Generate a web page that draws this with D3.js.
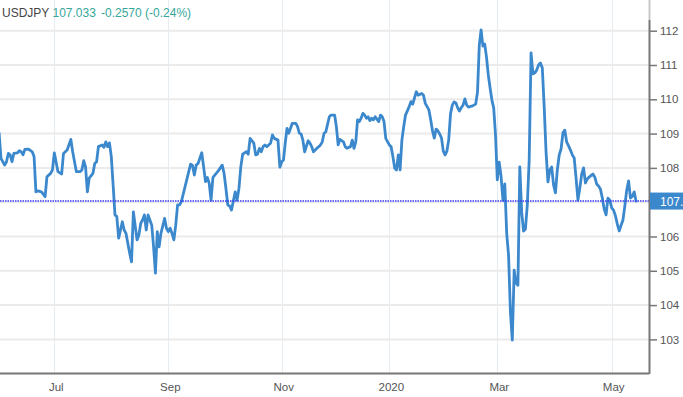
<!DOCTYPE html>
<html><head><meta charset="utf-8">
<script src="https://cdn.jsdelivr.net/npm/d3@7"></script>
<style>html,body{margin:0;padding:0;background:#fff;overflow:hidden}svg{display:block;font-family:"Liberation Sans",Arial,sans-serif}</style>
</head><body><svg id="c" width="683" height="397"></svg>
<script>
const symbol = "USDJPY";
const lastPrice = 107.033;
const lastText = "107.033";
const changeText = "-0.2570 (-0.24%)";

const dates = [
"2019-06-01","2019-06-02","2019-06-04","2019-06-05","2019-06-06","2019-06-07","2019-06-08","2019-06-09","2019-06-11","2019-06-12","2019-06-13","2019-06-14","2019-06-15","2019-06-17","2019-06-19","2019-06-20","2019-06-21","2019-06-22","2019-06-24","2019-06-26","2019-06-27","2019-06-29","2019-06-30",
"2019-07-01","2019-07-03","2019-07-05","2019-07-06","2019-07-08","2019-07-10","2019-07-11","2019-07-13","2019-07-15","2019-07-16","2019-07-17","2019-07-18","2019-07-19","2019-07-20","2019-07-22","2019-07-23","2019-07-24","2019-07-25","2019-07-27","2019-07-28","2019-07-29","2019-07-30","2019-07-31",
"2019-08-01","2019-08-02","2019-08-03","2019-08-04","2019-08-05","2019-08-07","2019-08-08","2019-08-09","2019-08-11","2019-08-12","2019-08-13","2019-08-15","2019-08-16","2019-08-17","2019-08-18","2019-08-19","2019-08-20","2019-08-21","2019-08-23","2019-08-24","2019-08-25","2019-08-26","2019-08-27","2019-08-28","2019-08-30","2019-08-31",
"2019-09-01","2019-09-02","2019-09-03","2019-09-04","2019-09-05","2019-09-06","2019-09-07","2019-09-08","2019-09-10","2019-09-12","2019-09-13","2019-09-14","2019-09-15","2019-09-16","2019-09-17","2019-09-19","2019-09-20","2019-09-21","2019-09-22","2019-09-23","2019-09-24","2019-09-25","2019-09-26","2019-09-28","2019-09-30",
"2019-10-01","2019-10-02","2019-10-03","2019-10-04","2019-10-05","2019-10-07","2019-10-08","2019-10-09","2019-10-10","2019-10-11","2019-10-13","2019-10-14","2019-10-15","2019-10-17","2019-10-18","2019-10-19","2019-10-20","2019-10-21","2019-10-22","2019-10-23","2019-10-24","2019-10-25","2019-10-26","2019-10-27","2019-10-28","2019-10-30","2019-10-31",
"2019-11-01","2019-11-02","2019-11-03","2019-11-04","2019-11-05","2019-11-07","2019-11-09","2019-11-10","2019-11-11","2019-11-12","2019-11-13","2019-11-14","2019-11-16","2019-11-17","2019-11-18","2019-11-19","2019-11-21","2019-11-23","2019-11-24","2019-11-25","2019-11-26","2019-11-28","2019-11-29",
"2019-12-01","2019-12-02","2019-12-03","2019-12-04","2019-12-06","2019-12-07","2019-12-08","2019-12-10","2019-12-11","2019-12-12","2019-12-13","2019-12-14","2019-12-15","2019-12-16","2019-12-17","2019-12-18","2019-12-19","2019-12-20","2019-12-21","2019-12-22","2019-12-23","2019-12-24","2019-12-26","2019-12-27","2019-12-28","2019-12-29","2019-12-30",
"2020-01-01","2020-01-02","2020-01-03","2020-01-04","2020-01-05","2020-01-06","2020-01-07","2020-01-08","2020-01-09","2020-01-10","2020-01-12","2020-01-13","2020-01-14","2020-01-16","2020-01-17","2020-01-19","2020-01-20","2020-01-21","2020-01-23","2020-01-24","2020-01-25","2020-01-26","2020-01-27","2020-01-28","2020-01-29","2020-01-30","2020-01-31",
"2020-02-01","2020-02-02","2020-02-03","2020-02-04","2020-02-05","2020-02-06","2020-02-07","2020-02-08","2020-02-09","2020-02-10","2020-02-11","2020-02-12","2020-02-13","2020-02-14","2020-02-15","2020-02-16","2020-02-17","2020-02-18","2020-02-19","2020-02-20","2020-02-21","2020-02-22","2020-02-23","2020-02-24","2020-02-25","2020-02-26","2020-02-27","2020-02-28","2020-02-29",
"2020-03-01","2020-03-02","2020-03-03","2020-03-04","2020-03-05","2020-03-06","2020-03-07","2020-03-08","2020-03-09","2020-03-10","2020-03-11","2020-03-12","2020-03-13","2020-03-14","2020-03-15","2020-03-16","2020-03-17","2020-03-18","2020-03-19","2020-03-20","2020-03-21","2020-03-22","2020-03-23","2020-03-24","2020-03-25","2020-03-26","2020-03-27","2020-03-28","2020-03-29","2020-03-30","2020-03-31",
"2020-04-01","2020-04-02","2020-04-03","2020-04-04","2020-04-05","2020-04-06","2020-04-07","2020-04-08","2020-04-09","2020-04-10","2020-04-11","2020-04-12","2020-04-13","2020-04-14","2020-04-15","2020-04-16","2020-04-17","2020-04-18","2020-04-19","2020-04-20","2020-04-21","2020-04-22","2020-04-23","2020-04-24","2020-04-25","2020-04-26","2020-04-27","2020-04-28","2020-04-29","2020-04-30",
"2020-05-01","2020-05-02","2020-05-03","2020-05-04","2020-05-05","2020-05-06","2020-05-07","2020-05-08","2020-05-09","2020-05-10","2020-05-11","2020-05-12","2020-05-13","2020-05-14"
];
const values = [
109.01,108.28,108.08,108.18,108.42,108.38,108.18,108.42,108.44,108.50,108.47,108.38,108.54,108.55,108.47,108.33,107.30,107.33,107.30,107.16,107.74,107.84,107.94,
108.44,107.89,107.82,108.42,108.52,108.83,108.47,107.89,107.89,107.94,108.21,108.03,107.30,107.70,107.84,108.13,108.18,108.62,108.67,108.60,108.76,108.62,108.73,
108.33,107.50,106.63,106.58,105.95,106.43,106.19,106.09,105.51,105.26,106.72,105.90,106.04,106.38,106.48,106.63,106.19,106.63,106.33,105.70,104.93,106.14,105.70,106.09,106.53,106.24,
106.14,106.24,106.09,105.90,106.33,106.92,106.92,107.01,107.45,107.89,108.11,108.08,107.79,108.08,108.13,108.44,108.03,107.60,107.72,107.55,107.06,107.72,107.79,107.92,108.08,
107.84,107.40,106.92,106.89,106.77,107.30,107.06,107.40,108.03,108.40,108.47,108.40,108.86,108.72,108.38,108.40,108.57,108.47,108.62,108.67,108.62,108.67,108.72,108.96,108.86,108.81,108.02,
108.18,108.23,108.72,109.15,109.01,109.30,109.30,109.20,109.01,108.99,108.81,108.47,108.79,108.72,108.62,108.47,108.57,108.67,108.76,109.01,109.05,109.49,109.54,
109.54,109.20,108.67,108.83,108.76,108.62,108.57,108.62,108.81,108.57,108.76,109.40,109.35,109.45,109.59,109.54,109.45,109.49,109.38,109.45,109.40,109.49,109.35,109.54,109.49,109.35,108.86,
108.67,108.62,108.33,107.99,107.94,108.38,107.94,108.81,109.20,109.54,109.78,109.93,109.86,110.22,110.12,110.17,110.12,109.88,109.69,109.40,109.08,108.87,109.13,109.08,108.99,108.87,108.49,
108.38,108.49,108.81,109.57,109.83,109.92,109.89,109.75,109.66,109.76,109.83,110.01,109.83,109.77,109.79,109.80,109.83,109.86,110.21,111.58,112.02,111.55,111.61,111.23,110.71,110.33,109.98,109.75,108.96,
107.65,108.17,107.76,107.06,107.53,106.10,105.46,103.79,102.98,105.02,104.64,104.58,108.03,106.71,106.16,106.22,106.92,108.23,111.35,110.74,110.77,110.85,111.00,111.06,110.91,109.78,108.46,107.59,107.94,108.03,107.50,
107.27,107.94,108.37,108.55,109.02,109.10,108.75,108.64,108.52,108.38,108.29,107.70,107.06,107.41,107.82,108.00,107.56,107.68,107.73,107.78,107.82,107.73,107.53,107.47,107.38,107.12,106.80,106.63,107.12,107.06,
106.83,106.77,106.60,106.36,106.16,106.33,106.48,106.89,107.35,107.62,107.12,107.17,107.30,107.03
];
const yTicks = [103,104,105,106,107,108,109,110,111,112];
const xTickDates = ["2019-07-01","2019-09-01","2019-11-01","2020-01-01","2020-03-01","2020-05-01"];
const xTickLabels = ["Jul","Sep","Nov","2020","Mar","May"];

const W = 683, H = 397, plotR = 649, plotB = 373;
const lineColor = "#3b88cd";
const parse = d3.timeParse("%Y-%m-%d");
const data = dates.map((d, i) => ({date: parse(d), v: values[i]}));
const tickDates = xTickDates.map(parse);

const x = d3.scaleTime().domain(tickDates).range([54.3, 168.3, 281.7, 389.3, 497.3, 611.7]);
const y = d3.scaleLinear().domain([102.02, 112.895]).range([plotB, 0]);

const svg = d3.select("#c");
svg.append("rect").attr("width", W).attr("height", H).attr("fill", "#fff");

// vertical grid
svg.append("g").selectAll("line").data(tickDates).join("line")
  .attr("x1", d => Math.round(x(d)) + 0.5).attr("x2", d => Math.round(x(d)) + 0.5)
  .attr("y1", 0).attr("y2", plotB)
  .attr("stroke", "#e6edf2").attr("stroke-width", 1);

// horizontal grid
svg.append("g").selectAll("line").data(yTicks).join("line")
  .attr("x1", 0).attr("x2", plotR)
  .attr("y1", d => y(d)).attr("y2", d => y(d))
  .attr("stroke", "#ebebeb").attr("stroke-width", 2);

// series line
svg.append("path").datum(data)
  .attr("fill", "none").attr("stroke", lineColor).attr("stroke-width", 2.8)
  .attr("stroke-linejoin", "round").attr("stroke-linecap", "round")
  .attr("d", d3.line().x(d => x(d.date)).y(d => y(d.v)));

// last price dotted line
svg.append("line")
  .attr("x1", 0).attr("x2", plotR)
  .attr("y1", Math.round(y(lastPrice))).attr("y2", Math.round(y(lastPrice)))
  .attr("stroke", "#3a3af2").attr("stroke-width", 1.5).attr("stroke-dasharray", "1.5,1");

// right axis
const yAxis = svg.append("g").attr("transform", `translate(${plotR},0)`)
  .call(d3.axisRight(y).tickValues(yTicks).tickSize(8).tickPadding(3).tickFormat(d3.format("d")));
yAxis.select(".domain").remove();
yAxis.selectAll(".tick line").attr("stroke", "#777").attr("stroke-width", 1.5);
yAxis.selectAll(".tick text").attr("fill", "#555").attr("font-size", 11.5)
  .attr("font-family", '"Liberation Sans",Arial,sans-serif');
// the 107 label sits under the last-price tag in the reference
yAxis.selectAll(".tick").filter(d => Math.abs(y(d) - y(lastPrice)) < 9).select("text").remove();
svg.append("line").attr("x1", plotR + 0.5).attr("x2", plotR + 0.5).attr("y1", 0).attr("y2", 20)
  .attr("stroke", "#c8c8c8").attr("stroke-width", 2);
svg.append("line").attr("x1", plotR + 0.5).attr("x2", plotR + 0.5).attr("y1", 20).attr("y2", plotB + 1)
  .attr("stroke", "#777").attr("stroke-width", 2);

// bottom axis
const xAxis = svg.append("g").attr("transform", `translate(0,${plotB})`)
  .call(d3.axisBottom(x).tickValues(tickDates).tickSize(0).tickPadding(10)
    .tickFormat((d, i) => xTickLabels[i]));
xAxis.select(".domain").remove();
xAxis.selectAll(".tick text").attr("fill", "#555").attr("font-size", 11.5).attr("dx", 1.5)
  .attr("font-family", '"Liberation Sans",Arial,sans-serif');
svg.append("line").attr("x1", 0).attr("x2", plotR).attr("y1", plotB + 0.5).attr("y2", plotB + 0.5)
  .attr("stroke", "#777").attr("stroke-width", 2);

// price tag
const ty = y(lastPrice);
svg.append("rect").attr("x", plotR + 1).attr("y", ty - 8.5).attr("width", W - plotR).attr("height", 17)
  .attr("fill", lineColor);
svg.append("text").attr("x", plotR + 11).attr("y", ty + 4.5).attr("fill", "#fff")
  .attr("font-size", 12).text(lastText);

// header
const hdr = svg.append("text").attr("y", 17).attr("font-size", 12);
hdr.append("tspan").attr("x", 2).attr("fill", "#444").text(symbol);
hdr.append("tspan").attr("x", 52.5).attr("fill", "#36a79a").text(lastText);
hdr.append("tspan").attr("x", 101).attr("fill", "#36a79a").text(changeText);
</script>
</body></html>
